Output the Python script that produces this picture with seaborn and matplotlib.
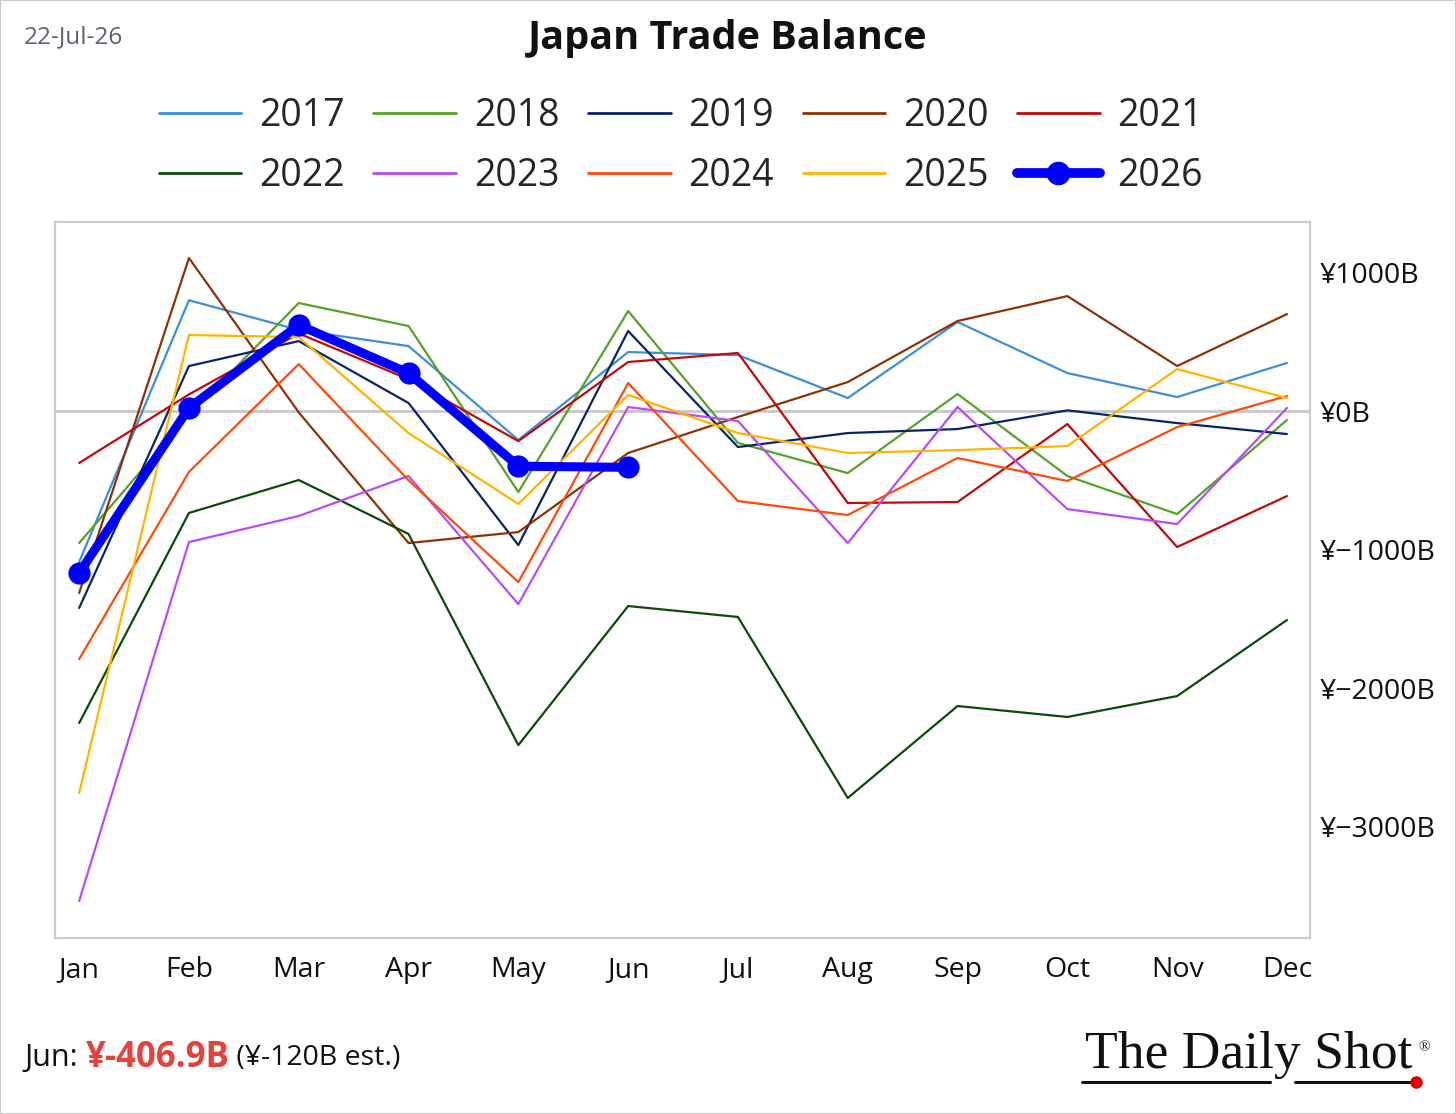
import matplotlib
matplotlib.use("Agg")
import matplotlib.pyplot as plt
import matplotlib.lines as mlines
import matplotlib.patches as mpatches
from matplotlib.ticker import FuncFormatter
import pandas as pd
import seaborn as sns

months = ['Jan', 'Feb', 'Mar', 'Apr', 'May', 'Jun', 'Jul', 'Aug', 'Sep', 'Oct', 'Nov', 'Dec']

# trade balance, billions of yen
y2017 = [-1090, 800, 585, 469, -209, 426, 404, 94, 643, 274, 101, 347]
y2018 = [-953, -30, 780, 614, -585, 722, -230, -448, 123, -469, -744, -65]
y2019 = [-1422, 325, 505, 58, -968, 578, -260, -159, -130, 5, -87, -166]
y2020 = [-1314, 1105, -10, -953, -874, -303, -43, 209, 650, 830, 325, 700]
y2021 = [-375, 120, 560, 230, -217, 354, 419, -664, -657, -94, -982, -614]
y2022 = [-2253, -736, -498, -888, -2412, -1408, -1487, -2794, -2130, -2209, -2058, -1509]
y2023 = [-3538, -946, -758, -469, -1394, 29, -72, -953, 29, -708, -816, 22]
y2024 = [-1791, -440, 339, -500, -1235, 202, -650, -751, -339, -505, -116, 108]
y2025 = [-2758, 549, 534, -159, -671, 116, -159, -303, -282, -253, 303, 94]
y2026 = [-1170, 22, 621, 274, -398, -406.9]

series = {
    '2017': y2017, '2018': y2018, '2019': y2019, '2020': y2020, '2021': y2021,
    '2022': y2022, '2023': y2023, '2024': y2024, '2025': y2025, '2026': y2026,
}
colors = {
    '2017': '#3f8fd6', '2018': '#58a12a', '2019': '#0b2466', '2020': '#8c3204',
    '2021': '#c20a0a', '2022': '#0b4a0b', '2023': '#b84cf6', '2024': '#ff4a0a',
    '2025': '#ffb400', '2026': '#0000ff',
}

frames = []
for year, vals in series.items():
    frames.append(pd.DataFrame({'month': range(len(vals)), 'value': vals, 'year': year}))
data = pd.concat(frames, ignore_index=True)

sns.set_style('white')
plt.rcParams['font.family'] = ['Open Sans', 'DejaVu Sans']

W, H = 1456, 1114
fig = plt.figure(figsize=(W / 100, H / 100), dpi=100)
ax = fig.add_axes([55 / W, 1 - 938 / H, (1310 - 55) / W, (938 - 222) / H])

ax.axhline(0, color='#c8c8c8', lw=2, zorder=1)

old = data[data['year'] != '2026']
sns.lineplot(data=old, x='month', y='value', hue='year', palette=colors,
             linewidth=1.6, sort=False, legend=False, ax=ax, zorder=2)
cur = data[data['year'] == '2026']
sns.lineplot(data=cur, x='month', y='value', color=colors['2026'], linewidth=6.5,
             marker='o', markersize=16, markeredgewidth=0, sort=False,
             legend=False, ax=ax, zorder=3)

ax.set_xlim(-0.22, 11.21)
ax.set_ylim(-3805, 1365)
ax.set_xticks(range(12))
ax.set_xticklabels(months)
ax.set_yticks([1000, 0, -1000, -2000, -3000])
ax.yaxis.set_major_formatter(FuncFormatter(lambda v, p: f"¥{v:.0f}B".replace('-', '\u2212')))
ax.yaxis.tick_right()
ax.tick_params(axis='both', length=0, labelsize=20.5, colors='#111111')
ax.tick_params(axis='x', pad=13)
ax.tick_params(axis='y', pad=7)
ax.set_xlabel('')
ax.set_ylabel('')
for s in ax.spines.values():
    s.set_color('#cccccc')
    s.set_linewidth(1.6)

# title and date
fig.text(0.5, 1 - 38 / H, 'Japan Trade Balance', ha='center', va='center',
         fontsize=28.5, fontweight='bold', color='#111111')
fig.text(24 / W, 1 - 37 / H, '22-Jul-26', ha='left', va='center',
         fontsize=17.5, color='#5c6370')

# legend: 2 rows x 5 columns (matplotlib fills column-wise)
order = ['2017', '2022', '2018', '2023', '2019', '2024', '2020', '2025', '2021', '2026']
handles = []
for y in order:
    if y == '2026':
        h = mlines.Line2D([], [], color=colors[y], lw=7, marker='o', markersize=16)
    else:
        h = mlines.Line2D([], [], color=colors[y], lw=2)
    handles.append(h)
fig.legend(handles, order, loc='center', bbox_to_anchor=(681 / W, 1 - 146 / H),
           ncol=5, frameon=False, fontsize=27, handlelength=2.2, handletextpad=0.48,
           columnspacing=0.76, labelspacing=0.6)

# footer
t1 = fig.text(24 / W, 1 - 1058 / H, 'Jun: ', ha='left', va='center', fontsize=22,
              color='#111111')
t2 = ax.annotate('¥-406.9B', xycoords=t1, xy=(1, 0.5), va='center', ha='left',
                 fontsize=25, fontweight='bold', color='#e8413c')
ax.annotate(' (¥-120B est.)', xycoords=t2, xy=(1, 0.5), va='center', ha='left',
            fontsize=20.5, color='#111111')

fig.text(1249 / W, 1 - 1055 / H, 'The Daily Shot', ha='center', va='center',
         fontsize=38.5, family='Liberation Serif', color='#111111')
fig.text(1424 / W, 1 - 1048 / H, '®', ha='center', va='center', fontsize=11,
         family='Liberation Serif', color='#111111')
fig.add_artist(mlines.Line2D([1082 / W, 1270 / W], [1 - 1082 / H] * 2, color='#111111', lw=2.2))
fig.add_artist(mlines.Line2D([1295 / W, 1414 / W], [1 - 1082 / H] * 2, color='#111111', lw=2.2))
fig.add_artist(mlines.Line2D([1416 / W], [1 - 1082 / H], color='#e00000', marker='o',
                             markersize=8, lw=0))

fig.add_artist(mpatches.Rectangle((0, 0), 1, 1, transform=fig.transFigure, fill=False,
                                  edgecolor='#cccccc', lw=1.5))

fig.savefig('out.png', dpi=100)
